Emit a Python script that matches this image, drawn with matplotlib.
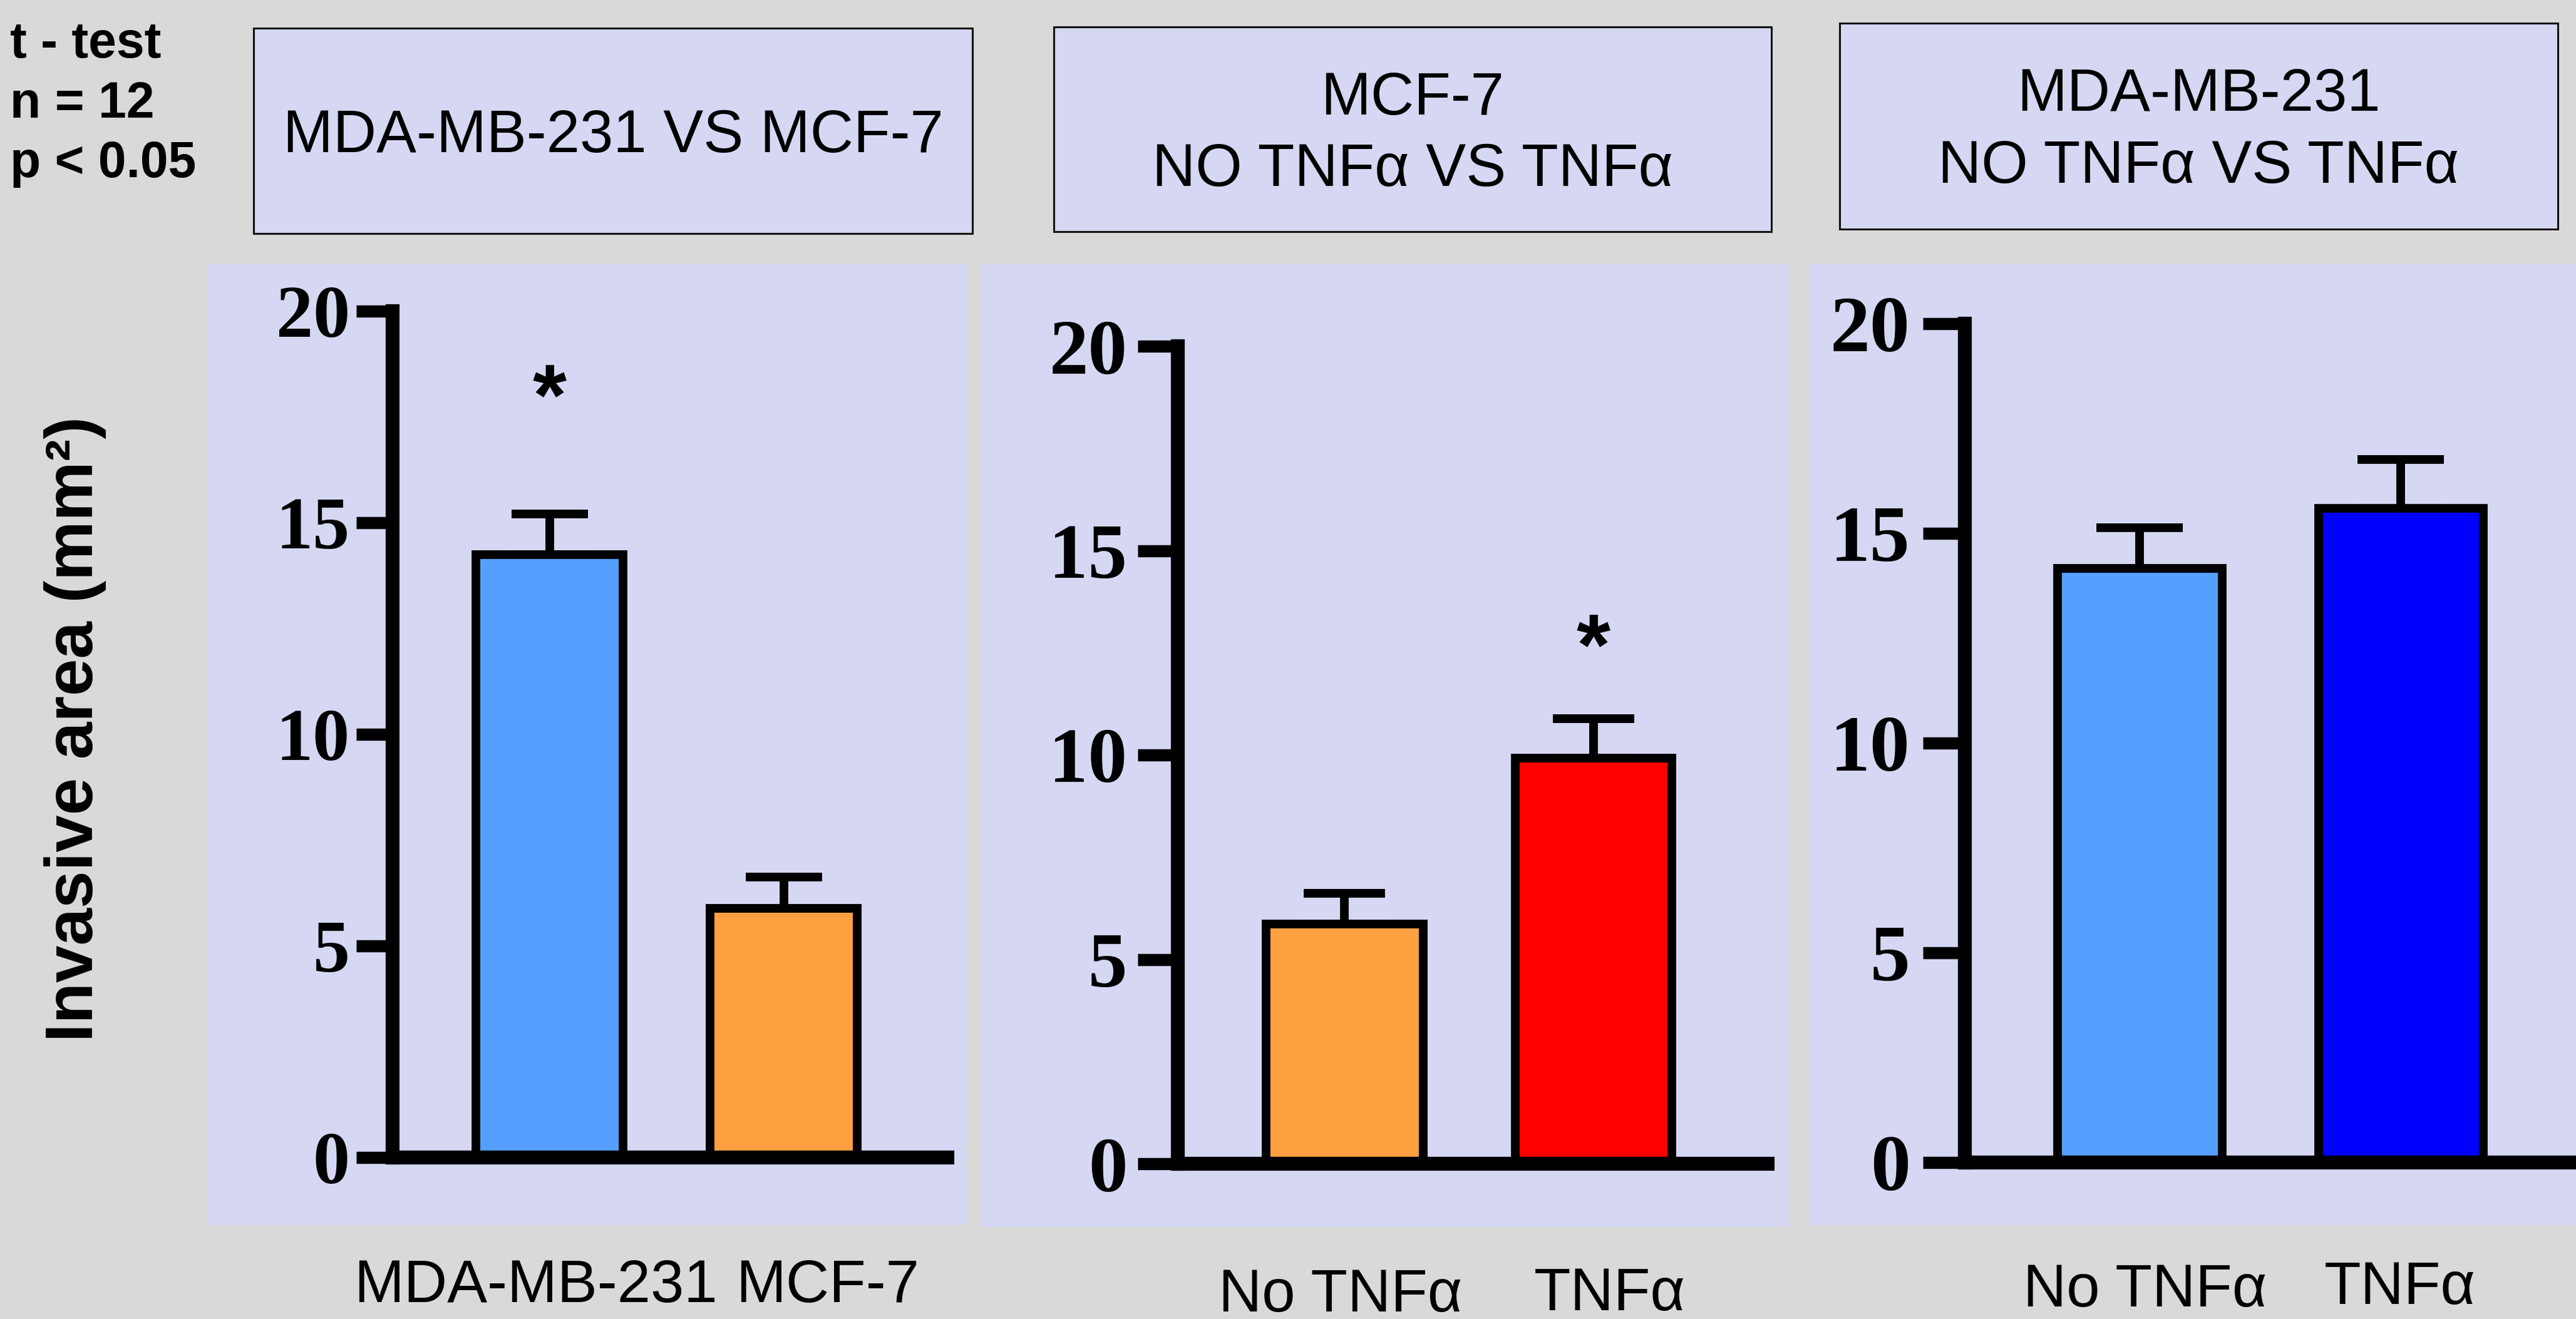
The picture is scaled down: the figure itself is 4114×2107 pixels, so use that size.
import matplotlib
matplotlib.use('Agg')
import matplotlib.pyplot as plt
from matplotlib.patches import Rectangle
import numpy as np

W, H = 4114, 2107
DPI = 100

# ---------------- data ----------------
stats_text = ["t - test", "n = 12", "p < 0.05"]
ylabel = "Invasive area (mm²)"
yticks = [0, 5, 10, 15, 20]

titles_p1 = ["MDA-MB-231 VS MCF-7"]
titles_p2 = ["MCF-7", "NO TNFα VS TNFα"]
titles_p3 = ["MDA-MB-231", "NO TNFα VS TNFα"]

cats_p1 = ["MDA-MB-231", "MCF-7"]
cats_p2 = ["No TNFα", "TNFα"]
cats_p3 = ["No TNFα", "TNFα"]

means_p1 = [14.24, 5.89]
errs_p1 = [0.97, 0.74]
means_p2 = [5.86, 9.92]
errs_p2 = [0.75, 0.97]
means_p3 = [14.16, 15.60]
errs_p3 = [0.98, 1.16]

colors_p1 = ['#55a0fe', '#fea040']
colors_p2 = ['#fea040', '#ff0000']
colors_p3 = ['#55a0fe', '#0000ff']

star_idx_p1 = [0]
star_y_p1 = [18.35]
star_idx_p2 = [1]
star_y_p2 = [13.04]
star_idx_p3 = []
star_y_p3 = []

# ---------------- style ----------------
BG = '#d9d9d9'
PANEL = '#d6d7f3'
SANS = ['Liberation Sans', 'DejaVu Sans']
SERIF = ['Liberation Serif', 'DejaVu Serif']

fig = plt.figure(figsize=(W / DPI, H / DPI), dpi=DPI, facecolor=BG)


def frect(x0, y0, x1, y1):
    """full-pixel box (top-left origin) -> figure fraction rect"""
    return [x0 / W, 1 - y1 / H, (x1 - x0) / W, (y1 - y0) / H]


def add_rect(x0, y0, x1, y1, fc, ec='none', lw=0):
    l, b, w, h = frect(x0, y0, x1, y1)
    fig.add_artist(Rectangle((l, b), w, h, transform=fig.transFigure,
                             facecolor=fc, edgecolor=ec, linewidth=lw, zorder=0))


# panel backgrounds
add_rect(331, 422, 1543, 1957, PANEL)
add_rect(1566, 422, 2857, 1960, PANEL)
add_rect(2889, 422, 4114, 1957, PANEL)

# title boxes
add_rect(405, 45, 1553, 373, PANEL, '#111111', 2.2)
add_rect(1683, 43, 2829, 370, PANEL, '#111111', 2.2)
add_rect(2938, 37, 4085, 366, PANEL, '#111111', 2.2)


def title_lines(lines, cx, baselines):
    for t, by in zip(lines, baselines):
        fig.text(cx / W, 1 - by / H, t, ha='center', va='baseline',
                 fontsize=69, family=SANS, color='black')


title_lines(titles_p1, 979, [243])
title_lines(titles_p2, 2256, [182.7, 296.7])
title_lines(titles_p3, 3511, [176.7, 292.3])

# stats text
for t, by in zip(stats_text, [92, 188, 283]):
    fig.text(16 / W, 1 - by / H, t, ha='left', va='baseline', fontsize=58,
             fontweight='bold', family=SANS)

# y label
fig.text(120 / W, 1 - 1165 / H, ylabel, rotation=90, ha='center', va='center',
         fontsize=77, fontweight='bold', family=SANS)

XLIM = (-0.67, 1.70)


def panel(left, top, bottom, spacing, means, errs, colors, star_idx, star_y,
          tick_fs, pad, ticklen, capsize):
    width = (XLIM[1] - XLIM[0]) * spacing
    ax = fig.add_axes(frect(left, top, left + width, bottom))
    ax.patch.set_alpha(0)
    x = np.arange(len(means))
    ax.bar(x, means, width=0.63, color=colors, edgecolor='black',
           linewidth=10, zorder=3)
    ax.errorbar(x, means, yerr=[np.zeros(len(errs)), errs], fmt='none',
                ecolor='black', elinewidth=10, capsize=capsize, capthick=10,
                zorder=2)
    fs_star = 100
    for i, sy in zip(star_idx, star_y):
        ax.annotate('*', xy=(x[i], sy), xytext=(0, -0.50 * fs_star),
                    textcoords='offset points', ha='center', va='baseline',
                    fontsize=fs_star, fontweight='bold', family=SANS,
                    annotation_clip=False)
    ax.set_xlim(*XLIM)
    ax.set_ylim(0, 20)
    ax.set_yticks(yticks)
    ax.set_yticklabels([str(v) for v in yticks], fontsize=tick_fs,
                       fontweight='bold', family=SERIF)
    ax.set_xticks([])
    for s in ['top', 'right']:
        ax.spines[s].set_visible(False)
    for s in ['left', 'bottom']:
        ax.spines[s].set_linewidth(16)
        ax.spines[s].set_capstyle('projecting')
        ax.spines[s].set_zorder(4)
    ax.tick_params(axis='y', length=ticklen, width=14, pad=pad, direction='out')
    return ax


panel(627, 497, 1849, 374, means_p1, errs_p1, colors_p1, star_idx_p1, star_y_p1,
      85, 7, 42, 44)
panel(1881, 553, 1859, 397.5, means_p2, errs_p2, colors_p2, star_idx_p2, star_y_p2,
      90, 12, 46, 46.5)
panel(3138, 517, 1857, 417, means_p3, errs_p3, colors_p3, star_idx_p3, star_y_p3,
      92, 15, 48, 50)

# category labels below panels
cat_pos = [
    (cats_p1, [855, 1322], [2080, 2080]),
    (cats_p2, [2141, 2571], [2095, 2093]),
    (cats_p3, [3426, 3833], [2087, 2083]),
]
for labels, xs, ys in cat_pos:
    for lab, cx, by in zip(labels, xs, ys):
        fig.text(cx / W, 1 - by / H, lab, ha='center', va='baseline',
                 fontsize=69, family=SANS)

fig.savefig('out.png', dpi=DPI, facecolor=BG)
